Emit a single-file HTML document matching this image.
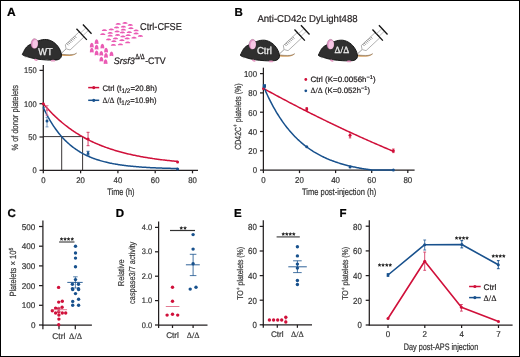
<!DOCTYPE html>
<html><head><meta charset="utf-8"><style>
html,body{margin:0;padding:0;background:#fff;}
body{width:520px;height:357px;overflow:hidden;}
.fig{position:relative;width:520px;height:357px;box-sizing:border-box;border:1px solid #000;background:#fff;}
svg{position:absolute;left:-1px;top:-1px;will-change:transform;text-rendering:geometricPrecision;font-family:"Liberation Sans", sans-serif;}
</style></head><body><div class="fig">
<svg width="520" height="357" viewBox="0 0 520 357">
<text x="7.10" y="16.00" font-size="12.0" fill="#000" stroke="#000" stroke-width="0.22" font-weight="bold" >A</text>
<line x1="43.30" y1="65.00" x2="43.30" y2="170.80" stroke="#231f20" stroke-width="1.25" />
<line x1="42.80" y1="170.30" x2="198.00" y2="170.30" stroke="#231f20" stroke-width="1.25" />
<line x1="39.50" y1="170.30" x2="43.30" y2="170.30" stroke="#231f20" stroke-width="1.25" />
<text x="36.60" y="173.20" font-size="8.2" fill="#333" stroke="#333" stroke-width="0.2" text-anchor="end" textLength="4.20" lengthAdjust="spacingAndGlyphs">0</text>
<line x1="39.50" y1="137.00" x2="43.30" y2="137.00" stroke="#231f20" stroke-width="1.25" />
<text x="36.60" y="139.90" font-size="8.2" fill="#333" stroke="#333" stroke-width="0.2" text-anchor="end" textLength="8.39" lengthAdjust="spacingAndGlyphs">50</text>
<line x1="39.50" y1="103.70" x2="43.30" y2="103.70" stroke="#231f20" stroke-width="1.25" />
<text x="36.60" y="106.60" font-size="8.2" fill="#333" stroke="#333" stroke-width="0.2" text-anchor="end" textLength="12.59" lengthAdjust="spacingAndGlyphs">100</text>
<line x1="39.50" y1="70.40" x2="43.30" y2="70.40" stroke="#231f20" stroke-width="1.25" />
<text x="36.60" y="73.30" font-size="8.2" fill="#333" stroke="#333" stroke-width="0.2" text-anchor="end" textLength="12.59" lengthAdjust="spacingAndGlyphs">150</text>
<line x1="43.30" y1="170.30" x2="43.30" y2="173.30" stroke="#231f20" stroke-width="1.25" />
<text x="43.30" y="182.60" font-size="8.2" fill="#333" stroke="#333" stroke-width="0.2" text-anchor="middle" textLength="4.33" lengthAdjust="spacingAndGlyphs">0</text>
<line x1="80.60" y1="170.30" x2="80.60" y2="173.30" stroke="#231f20" stroke-width="1.25" />
<text x="80.60" y="182.60" font-size="8.2" fill="#333" stroke="#333" stroke-width="0.2" text-anchor="middle" textLength="8.66" lengthAdjust="spacingAndGlyphs">20</text>
<line x1="117.90" y1="170.30" x2="117.90" y2="173.30" stroke="#231f20" stroke-width="1.25" />
<text x="117.90" y="182.60" font-size="8.2" fill="#333" stroke="#333" stroke-width="0.2" text-anchor="middle" textLength="8.66" lengthAdjust="spacingAndGlyphs">40</text>
<line x1="155.20" y1="170.30" x2="155.20" y2="173.30" stroke="#231f20" stroke-width="1.25" />
<text x="155.20" y="182.60" font-size="8.2" fill="#333" stroke="#333" stroke-width="0.2" text-anchor="middle" textLength="8.66" lengthAdjust="spacingAndGlyphs">60</text>
<line x1="192.50" y1="170.30" x2="192.50" y2="173.30" stroke="#231f20" stroke-width="1.25" />
<text x="192.50" y="182.60" font-size="8.2" fill="#333" stroke="#333" stroke-width="0.2" text-anchor="middle" textLength="8.66" lengthAdjust="spacingAndGlyphs">80</text>
<text x="107.30" y="194.60" font-size="9.4" fill="#333" stroke="#333" stroke-width="0.22" textLength="27.2" lengthAdjust="spacingAndGlyphs" >Time (h)</text>
<g transform="translate(17.50 150.50) rotate(-90)">
<text x="0.00" y="0.00" font-size="9" fill="#3a3a3a" stroke="#3a3a3a" stroke-width="0.22" textLength="65.50" lengthAdjust="spacingAndGlyphs" xml:space="preserve">% of donor platelets</text>
</g>
<line x1="43.30" y1="136.60" x2="82.60" y2="136.60" stroke="#231f20" stroke-width="0.9" />
<line x1="61.70" y1="136.60" x2="61.70" y2="170.30" stroke="#231f20" stroke-width="0.9" />
<line x1="82.60" y1="136.60" x2="82.60" y2="170.30" stroke="#231f20" stroke-width="0.9" />
<polyline points="43.30,103.70 44.23,104.81 45.16,105.89 46.10,106.96 47.03,108.01 47.96,109.04 48.89,110.05 49.83,111.05 50.76,112.02 51.69,112.98 52.62,113.92 53.56,114.85 54.49,115.76 55.42,116.65 56.35,117.53 57.29,118.39 58.22,119.24 59.15,120.07 60.08,120.88 61.02,121.69 61.95,122.48 62.88,123.25 63.81,124.01 64.75,124.76 65.68,125.49 66.61,126.21 67.55,126.92 68.48,127.62 69.41,128.30 70.34,128.97 71.28,129.63 72.21,130.28 73.14,130.91 74.07,131.54 75.00,132.15 75.94,132.76 76.87,133.35 77.80,133.93 78.73,134.50 79.67,135.06 80.60,135.61 81.53,136.16 82.47,136.69 83.40,137.21 84.33,137.72 85.26,138.23 86.19,138.72 87.13,139.21 88.06,139.69 88.99,140.16 89.92,140.62 90.86,141.07 91.79,141.52 92.72,141.96 93.66,142.39 94.59,142.81 95.52,143.22 96.45,143.63 97.38,144.03 98.32,144.42 99.25,144.81 100.18,145.19 101.11,145.56 102.05,145.93 102.98,146.28 103.91,146.64 104.84,146.98 105.78,147.33 106.71,147.66 107.64,147.99 108.58,148.31 109.51,148.63 110.44,148.94 111.37,149.25 112.30,149.55 113.24,149.84 114.17,150.13 115.10,150.42 116.03,150.70 116.97,150.97 117.90,151.24 118.83,151.51 119.77,151.77 120.70,152.02 121.63,152.28 122.56,152.52 123.49,152.76 124.43,153.00 125.36,153.24 126.29,153.47 127.22,153.69 128.16,153.92 129.09,154.13 130.02,154.35 130.95,154.56 131.89,154.76 132.82,154.97 133.75,155.17 134.69,155.36 135.62,155.55 136.55,155.74 137.48,155.93 138.41,156.11 139.35,156.29 140.28,156.47 141.21,156.64 142.14,156.81 143.08,156.98 144.01,157.14 144.94,157.30 145.88,157.46 146.81,157.61 147.74,157.77 148.67,157.92 149.60,158.06 150.54,158.21 151.47,158.35 152.40,158.49 153.33,158.63 154.27,158.76 155.20,158.89 156.13,159.02 157.06,159.15 158.00,159.28 158.93,159.40 159.86,159.52 160.80,159.64 161.73,159.76 162.66,159.87 163.59,159.98 164.52,160.09 165.46,160.20 166.39,160.31 167.32,160.41 168.25,160.52 169.19,160.62 170.12,160.72 171.05,160.82 171.99,160.91 172.92,161.01 173.85,161.10 174.78,161.19 175.71,161.28 176.65,161.37 177.58,161.45" fill="none" stroke="#d0103a" stroke-width="1.5" stroke-linejoin="round"/>
<polyline points="43.30,107.56 44.23,109.53 45.16,111.43 46.10,113.27 47.03,115.05 47.96,116.78 48.89,118.45 49.83,120.07 50.76,121.63 51.69,123.15 52.62,124.62 53.56,126.04 54.49,127.41 55.42,128.74 56.35,130.03 57.29,131.28 58.22,132.49 59.15,133.66 60.08,134.79 61.02,135.88 61.95,136.94 62.88,137.97 63.81,138.96 64.75,139.93 65.68,140.86 66.61,141.76 67.55,142.63 68.48,143.48 69.41,144.30 70.34,145.09 71.28,145.85 72.21,146.60 73.14,147.32 74.07,148.01 75.00,148.68 75.94,149.34 76.87,149.97 77.80,150.58 78.73,151.17 79.67,151.74 80.60,152.30 81.53,152.83 82.47,153.35 83.40,153.86 84.33,154.34 85.26,154.81 86.19,155.27 87.13,155.71 88.06,156.14 88.99,156.55 89.92,156.95 90.86,157.34 91.79,157.72 92.72,158.08 93.66,158.43 94.59,158.77 95.52,159.10 96.45,159.42 97.38,159.73 98.32,160.03 99.25,160.32 100.18,160.60 101.11,160.87 102.05,161.13 102.98,161.39 103.91,161.63 104.84,161.87 105.78,162.10 106.71,162.33 107.64,162.54 108.58,162.75 109.51,162.96 110.44,163.15 111.37,163.34 112.30,163.53 113.24,163.70 114.17,163.88 115.10,164.04 116.03,164.20 116.97,164.36 117.90,164.51 118.83,164.66 119.77,164.80 120.70,164.94 121.63,165.07 122.56,165.20 123.49,165.32 124.43,165.44 125.36,165.56 126.29,165.67 127.22,165.78 128.16,165.89 129.09,165.99 130.02,166.09 130.95,166.19 131.89,166.28 132.82,166.37 133.75,166.46 134.69,166.54 135.62,166.62 136.55,166.70 137.48,166.78 138.41,166.85 139.35,166.93 140.28,167.00 141.21,167.06 142.14,167.13 143.08,167.19 144.01,167.25 144.94,167.31 145.88,167.37 146.81,167.42 147.74,167.48 148.67,167.53 149.60,167.58 150.54,167.63 151.47,167.67 152.40,167.72 153.33,167.76 154.27,167.81 155.20,167.85 156.13,167.89 157.06,167.93 158.00,167.96 158.93,168.00 159.86,168.04 160.80,168.07 161.73,168.10 162.66,168.13 163.59,168.17 164.52,168.20 165.46,168.22 166.39,168.25 167.32,168.28 168.25,168.31 169.19,168.33 170.12,168.36 171.05,168.38 171.99,168.40 172.92,168.42 173.85,168.45 174.78,168.47 175.71,168.49 176.65,168.51 177.58,168.53" fill="none" stroke="#18518d" stroke-width="1.5" stroke-linejoin="round"/>
<line x1="47.03" y1="105.60" x2="47.03" y2="115.20" stroke="#e07090" stroke-width="0.8" />
<line x1="45.53" y1="105.60" x2="48.53" y2="105.60" stroke="#e07090" stroke-width="0.8" />
<line x1="45.53" y1="115.20" x2="48.53" y2="115.20" stroke="#e07090" stroke-width="0.8" />
<line x1="88.06" y1="132.30" x2="88.06" y2="145.70" stroke="#d33a62" stroke-width="0.95" />
<line x1="86.56" y1="132.30" x2="89.56" y2="132.30" stroke="#d33a62" stroke-width="0.95" />
<line x1="86.56" y1="145.70" x2="89.56" y2="145.70" stroke="#d33a62" stroke-width="0.95" />
<line x1="47.03" y1="117.40" x2="47.03" y2="126.90" stroke="#5b85b5" stroke-width="0.8" />
<line x1="45.53" y1="117.40" x2="48.53" y2="117.40" stroke="#5b85b5" stroke-width="0.8" />
<line x1="45.53" y1="126.90" x2="48.53" y2="126.90" stroke="#5b85b5" stroke-width="0.8" />
<line x1="88.06" y1="151.30" x2="88.06" y2="155.00" stroke="#18518d" stroke-width="0.9" />
<line x1="86.56" y1="151.30" x2="89.56" y2="151.30" stroke="#18518d" stroke-width="0.9" />
<line x1="86.56" y1="155.00" x2="89.56" y2="155.00" stroke="#18518d" stroke-width="0.9" />
<circle cx="43.30" cy="103.70" r="1.5" fill="#d0103a"/>
<circle cx="47.03" cy="110.00" r="1.2" fill="#e07090"/>
<circle cx="88.06" cy="139.10" r="1.5" fill="#d0103a"/>
<circle cx="177.58" cy="161.90" r="1.5" fill="#d0103a"/>
<circle cx="43.70" cy="107.60" r="1.0" fill="#18518d"/>
<circle cx="47.03" cy="121.00" r="1.5" fill="#18518d"/>
<circle cx="88.06" cy="153.40" r="1.3" fill="#18518d"/>
<circle cx="177.58" cy="169.00" r="1.6" fill="#18518d"/>
<line x1="88.20" y1="87.60" x2="99.20" y2="87.60" stroke="#d0103a" stroke-width="1.5" />
<circle cx="93.75" cy="87.60" r="1.6" fill="#d0103a"/>
<line x1="88.20" y1="100.30" x2="99.20" y2="100.30" stroke="#18518d" stroke-width="1.5" />
<circle cx="93.75" cy="100.30" r="1.6" fill="#18518d"/>
<text x="102.50" y="90.50" font-size="8.0" fill="#231f20" stroke="#231f20" stroke-width="0.22" textLength="19.03" lengthAdjust="spacingAndGlyphs" xml:space="preserve">Ctrl (t</text>
<text x="121.53" y="92.70" font-size="6.6" fill="#231f20" stroke="#231f20" stroke-width="0.22" textLength="8.93" lengthAdjust="spacingAndGlyphs" xml:space="preserve">1/2</text>
<text x="130.47" y="90.50" font-size="8.0" fill="#231f20" stroke="#231f20" stroke-width="0.22" textLength="26.63" lengthAdjust="spacingAndGlyphs" xml:space="preserve">=20.8h)</text>
<text x="102.50" y="102.80" font-size="8.0" fill="#231f20" stroke="#231f20" stroke-width="0.22" textLength="12.03" lengthAdjust="spacingAndGlyphs" xml:space="preserve" font-family="Liberation Serif">Δ/Δ</text>
<text x="114.53" y="102.80" font-size="8.0" fill="#231f20" stroke="#231f20" stroke-width="0.22" textLength="6.84" lengthAdjust="spacingAndGlyphs" xml:space="preserve"> (t</text>
<text x="121.37" y="105.00" font-size="6.6" fill="#231f20" stroke="#231f20" stroke-width="0.22" textLength="8.82" lengthAdjust="spacingAndGlyphs" xml:space="preserve">1/2</text>
<text x="130.19" y="102.80" font-size="8.0" fill="#231f20" stroke="#231f20" stroke-width="0.22" textLength="26.31" lengthAdjust="spacingAndGlyphs" xml:space="preserve">=10.9h)</text>
<g transform="translate(0 0)">
<path d="M61 54.0 C65 54.6 69 54.8 72 54.6 C74 54.4 75.6 53.8 76.8 52.9 L76.5 53.6 C75 55 72.5 55.9 70 56 C67 56.1 64 55.9 61 55.8 Z" fill="#d6a264"/>
<path d="M61 54.1 C65 54.7 69 54.9 72 54.7 C74 54.5 75.6 53.9 76.8 52.9" fill="none" stroke="#5a5048" stroke-width="0.45"/>
<path d="M22.4 54.3 C23.2 52.8 24.3 50.0 25.6 48.2 C26.8 46.6 28.3 45.2 30.2 44.6 C32.5 42.2 35.5 41.2 38.5 40.8 C41 39.8 44 39.3 46.5 39.5 C51.5 40 56.5 43.5 59.2 48.3 C60.7 51 61.6 53.5 61.5 55.8 C61.2 58 59.5 59.6 57 59.9 C52 60.4 47 60.1 44 59.8 C40 59.5 37.5 59.2 35.5 58.8 C32 58.2 29.5 57.4 27.5 56.8 C25.5 56.2 24 55.8 23.2 55.3 C22.6 55 22.3 54.7 22.3 54.3 Z" fill="#2f2f2f" stroke="#0d0d0d" stroke-width="0.9"/>
<ellipse cx="34.4" cy="43.6" rx="3.4" ry="5.0" fill="#e596c8" stroke="#7a5068" stroke-width="0.3" transform="rotate(6 34.4 43.6)"/>
<ellipse cx="35.2" cy="44.2" rx="2.6" ry="4.1" fill="#f6c6e4" transform="rotate(6 35.2 44.2)"/>
<ellipse cx="35.8" cy="59.9" rx="1.9" ry="0.9" fill="#e59ac4" transform="rotate(20 35.8 59.9)"/>
<ellipse cx="53.0" cy="60.7" rx="2.4" ry="0.9" fill="#e59ac4"/>
<path d="M25.2 56 L25.4 57.6 M26.6 56.3 L26.8 57.6" stroke="#888" stroke-width="0.45"/>
</g>
<text x="38.2" y="54.7" font-size="10.0" fill="#ececec" stroke="#ececec" stroke-width="0.3" textLength="14.4" lengthAdjust="spacingAndGlyphs">WT</text>
<g transform="translate(62 52.7) rotate(-43)">
<line x1="0" y1="0" x2="5.8" y2="0" stroke="#666" stroke-width="0.6"/>
<path d="M5.8 -0.3 L7.8 -3.5 L26.6 -3.5 L26.6 3.5 L7.8 3.5 L5.8 0.3 Z" fill="#fff" stroke="#7a7a7a" stroke-width="0.55"/>
<line x1="9.8" y1="-3.5" x2="9.8" y2="-1.0" stroke="#555" stroke-width="0.6"/>
<line x1="11.6" y1="-3.5" x2="11.6" y2="-1.0" stroke="#555" stroke-width="0.6"/>
<line x1="13.4" y1="-3.5" x2="13.4" y2="-1.0" stroke="#555" stroke-width="0.6"/>
<line x1="15.2" y1="-3.5" x2="15.2" y2="-1.0" stroke="#555" stroke-width="0.6"/>
<line x1="17.0" y1="-3.5" x2="17.0" y2="-1.0" stroke="#555" stroke-width="0.6"/>
<line x1="18.8" y1="-3.5" x2="18.8" y2="-1.0" stroke="#555" stroke-width="0.6"/>
<line x1="20.6" y1="-3.5" x2="20.6" y2="-1.0" stroke="#555" stroke-width="0.6"/>
<line x1="26.9" y1="-7.6" x2="26.9" y2="7.6" stroke="#111" stroke-width="1.3"/>
<line x1="26.9" y1="-1.8" x2="34.3" y2="-1.8" stroke="#8a8a8a" stroke-width="0.5"/>
<line x1="26.9" y1="1.8" x2="34.3" y2="1.8" stroke="#8a8a8a" stroke-width="0.5"/>
<line x1="34.5" y1="-6.3" x2="34.5" y2="6.3" stroke="#111" stroke-width="1.3"/>
</g>
<g transform="translate(218 0.7)">
<path d="M61 54.0 C65 54.6 69 54.8 72 54.6 C74 54.4 75.6 53.8 76.8 52.9 L76.5 53.6 C75 55 72.5 55.9 70 56 C67 56.1 64 55.9 61 55.8 Z" fill="#d6a264"/>
<path d="M61 54.1 C65 54.7 69 54.9 72 54.7 C74 54.5 75.6 53.9 76.8 52.9" fill="none" stroke="#5a5048" stroke-width="0.45"/>
<path d="M22.4 54.3 C23.2 52.8 24.3 50.0 25.6 48.2 C26.8 46.6 28.3 45.2 30.2 44.6 C32.5 42.2 35.5 41.2 38.5 40.8 C41 39.8 44 39.3 46.5 39.5 C51.5 40 56.5 43.5 59.2 48.3 C60.7 51 61.6 53.5 61.5 55.8 C61.2 58 59.5 59.6 57 59.9 C52 60.4 47 60.1 44 59.8 C40 59.5 37.5 59.2 35.5 58.8 C32 58.2 29.5 57.4 27.5 56.8 C25.5 56.2 24 55.8 23.2 55.3 C22.6 55 22.3 54.7 22.3 54.3 Z" fill="#2f2f2f" stroke="#0d0d0d" stroke-width="0.9"/>
<ellipse cx="34.4" cy="43.6" rx="3.4" ry="5.0" fill="#e596c8" stroke="#7a5068" stroke-width="0.3" transform="rotate(6 34.4 43.6)"/>
<ellipse cx="35.2" cy="44.2" rx="2.6" ry="4.1" fill="#f6c6e4" transform="rotate(6 35.2 44.2)"/>
<ellipse cx="35.8" cy="59.9" rx="1.9" ry="0.9" fill="#e59ac4" transform="rotate(20 35.8 59.9)"/>
<ellipse cx="53.0" cy="60.7" rx="2.4" ry="0.9" fill="#e59ac4"/>
<path d="M25.2 56 L25.4 57.6 M26.6 56.3 L26.8 57.6" stroke="#888" stroke-width="0.45"/>
</g>
<text x="256.9" y="54.2" font-size="10.0" fill="#ececec" stroke="#ececec" stroke-width="0.3" textLength="15.0" lengthAdjust="spacingAndGlyphs">Ctrl</text>
<g transform="translate(280 53.4) rotate(-43)">
<line x1="0" y1="0" x2="5.8" y2="0" stroke="#666" stroke-width="0.6"/>
<path d="M5.8 -0.3 L7.8 -3.5 L26.6 -3.5 L26.6 3.5 L7.8 3.5 L5.8 0.3 Z" fill="#fff" stroke="#7a7a7a" stroke-width="0.55"/>
<line x1="9.8" y1="-3.5" x2="9.8" y2="-1.0" stroke="#555" stroke-width="0.6"/>
<line x1="11.6" y1="-3.5" x2="11.6" y2="-1.0" stroke="#555" stroke-width="0.6"/>
<line x1="13.4" y1="-3.5" x2="13.4" y2="-1.0" stroke="#555" stroke-width="0.6"/>
<line x1="15.2" y1="-3.5" x2="15.2" y2="-1.0" stroke="#555" stroke-width="0.6"/>
<line x1="17.0" y1="-3.5" x2="17.0" y2="-1.0" stroke="#555" stroke-width="0.6"/>
<line x1="18.8" y1="-3.5" x2="18.8" y2="-1.0" stroke="#555" stroke-width="0.6"/>
<line x1="20.6" y1="-3.5" x2="20.6" y2="-1.0" stroke="#555" stroke-width="0.6"/>
<line x1="26.9" y1="-7.6" x2="26.9" y2="7.6" stroke="#111" stroke-width="1.3"/>
<line x1="26.9" y1="-1.8" x2="34.3" y2="-1.8" stroke="#8a8a8a" stroke-width="0.5"/>
<line x1="26.9" y1="1.8" x2="34.3" y2="1.8" stroke="#8a8a8a" stroke-width="0.5"/>
<line x1="34.5" y1="-6.3" x2="34.5" y2="6.3" stroke="#111" stroke-width="1.3"/>
</g>
<g transform="translate(296 0.7)">
<path d="M61 54.0 C65 54.6 69 54.8 72 54.6 C74 54.4 75.6 53.8 76.8 52.9 L76.5 53.6 C75 55 72.5 55.9 70 56 C67 56.1 64 55.9 61 55.8 Z" fill="#d6a264"/>
<path d="M61 54.1 C65 54.7 69 54.9 72 54.7 C74 54.5 75.6 53.9 76.8 52.9" fill="none" stroke="#5a5048" stroke-width="0.45"/>
<path d="M22.4 54.3 C23.2 52.8 24.3 50.0 25.6 48.2 C26.8 46.6 28.3 45.2 30.2 44.6 C32.5 42.2 35.5 41.2 38.5 40.8 C41 39.8 44 39.3 46.5 39.5 C51.5 40 56.5 43.5 59.2 48.3 C60.7 51 61.6 53.5 61.5 55.8 C61.2 58 59.5 59.6 57 59.9 C52 60.4 47 60.1 44 59.8 C40 59.5 37.5 59.2 35.5 58.8 C32 58.2 29.5 57.4 27.5 56.8 C25.5 56.2 24 55.8 23.2 55.3 C22.6 55 22.3 54.7 22.3 54.3 Z" fill="#2f2f2f" stroke="#0d0d0d" stroke-width="0.9"/>
<ellipse cx="34.4" cy="43.6" rx="3.4" ry="5.0" fill="#e596c8" stroke="#7a5068" stroke-width="0.3" transform="rotate(6 34.4 43.6)"/>
<ellipse cx="35.2" cy="44.2" rx="2.6" ry="4.1" fill="#f6c6e4" transform="rotate(6 35.2 44.2)"/>
<ellipse cx="35.8" cy="59.9" rx="1.9" ry="0.9" fill="#e59ac4" transform="rotate(20 35.8 59.9)"/>
<ellipse cx="53.0" cy="60.7" rx="2.4" ry="0.9" fill="#e59ac4"/>
<path d="M25.2 56 L25.4 57.6 M26.6 56.3 L26.8 57.6" stroke="#888" stroke-width="0.45"/>
</g>
<text x="334.6" y="53.0" font-size="9.6" fill="#ececec" stroke="#ececec" stroke-width="0.3" font-family="Liberation Serif" textLength="14.6" lengthAdjust="spacingAndGlyphs">Δ/Δ</text>
<g transform="translate(358 53.4) rotate(-43)">
<line x1="0" y1="0" x2="5.8" y2="0" stroke="#666" stroke-width="0.6"/>
<path d="M5.8 -0.3 L7.8 -3.5 L26.6 -3.5 L26.6 3.5 L7.8 3.5 L5.8 0.3 Z" fill="#fff" stroke="#7a7a7a" stroke-width="0.55"/>
<line x1="9.8" y1="-3.5" x2="9.8" y2="-1.0" stroke="#555" stroke-width="0.6"/>
<line x1="11.6" y1="-3.5" x2="11.6" y2="-1.0" stroke="#555" stroke-width="0.6"/>
<line x1="13.4" y1="-3.5" x2="13.4" y2="-1.0" stroke="#555" stroke-width="0.6"/>
<line x1="15.2" y1="-3.5" x2="15.2" y2="-1.0" stroke="#555" stroke-width="0.6"/>
<line x1="17.0" y1="-3.5" x2="17.0" y2="-1.0" stroke="#555" stroke-width="0.6"/>
<line x1="18.8" y1="-3.5" x2="18.8" y2="-1.0" stroke="#555" stroke-width="0.6"/>
<line x1="20.6" y1="-3.5" x2="20.6" y2="-1.0" stroke="#555" stroke-width="0.6"/>
<line x1="26.9" y1="-7.6" x2="26.9" y2="7.6" stroke="#111" stroke-width="1.3"/>
<line x1="26.9" y1="-1.8" x2="34.3" y2="-1.8" stroke="#8a8a8a" stroke-width="0.5"/>
<line x1="26.9" y1="1.8" x2="34.3" y2="1.8" stroke="#8a8a8a" stroke-width="0.5"/>
<line x1="34.5" y1="-6.3" x2="34.5" y2="6.3" stroke="#111" stroke-width="1.3"/>
</g>
<path d="M115.60 24.40 C115.90 22.40 120.50 22.40 120.80 24.40 C120.20 24.90 116.20 24.90 115.60 24.40 Z" fill="#ea5bb4"/>
<path d="M122.40 23.50 C122.70 21.50 127.30 21.50 127.60 23.50 C127.00 24.00 123.00 24.00 122.40 23.50 Z" fill="#ea5bb4"/>
<path d="M127.70 25.60 C128.00 23.60 132.60 23.60 132.90 25.60 C132.30 26.10 128.30 26.10 127.70 25.60 Z" fill="#ea5bb4"/>
<path d="M114.00 28.10 C114.30 26.10 118.90 26.10 119.20 28.10 C118.60 28.60 114.60 28.60 114.00 28.10 Z" fill="#ea5bb4"/>
<path d="M120.80 27.30 C121.10 25.30 125.70 25.30 126.00 27.30 C125.40 27.80 121.40 27.80 120.80 27.30 Z" fill="#ea5bb4"/>
<path d="M128.30 28.80 C128.60 26.80 133.20 26.80 133.50 28.80 C132.90 29.30 128.90 29.30 128.30 28.80 Z" fill="#ea5bb4"/>
<path d="M101.80 30.70 C102.10 28.70 106.70 28.70 107.00 30.70 C106.40 31.20 102.40 31.20 101.80 30.70 Z" fill="#ea5bb4"/>
<path d="M108.70 30.00 C109.00 28.00 113.60 28.00 113.90 30.00 C113.30 30.50 109.30 30.50 108.70 30.00 Z" fill="#ea5bb4"/>
<path d="M120.80 30.20 C121.10 28.20 125.70 28.20 126.00 30.20 C125.40 30.70 121.40 30.70 120.80 30.20 Z" fill="#ea5bb4"/>
<path d="M133.50 30.90 C133.80 28.90 138.40 28.90 138.70 30.90 C138.10 31.40 134.10 31.40 133.50 30.90 Z" fill="#ea5bb4"/>
<path d="M100.20 34.70 C100.50 32.70 105.10 32.70 105.40 34.70 C104.80 35.20 100.80 35.20 100.20 34.70 Z" fill="#ea5bb4"/>
<path d="M107.60 33.40 C107.90 31.40 112.50 31.40 112.80 33.40 C112.20 33.90 108.20 33.90 107.60 33.40 Z" fill="#ea5bb4"/>
<path d="M114.50 32.00 C114.80 30.00 119.40 30.00 119.70 32.00 C119.10 32.50 115.10 32.50 114.50 32.00 Z" fill="#ea5bb4"/>
<path d="M119.80 33.10 C120.10 31.10 124.70 31.10 125.00 33.10 C124.40 33.60 120.40 33.60 119.80 33.10 Z" fill="#ea5bb4"/>
<path d="M126.70 32.80 C127.00 30.80 131.60 30.80 131.90 32.80 C131.30 33.30 127.30 33.30 126.70 32.80 Z" fill="#ea5bb4"/>
<path d="M133.50 34.10 C133.80 32.10 138.40 32.10 138.70 34.10 C138.10 34.60 134.10 34.60 133.50 34.10 Z" fill="#ea5bb4"/>
<path d="M107.60 36.20 C107.90 34.20 112.50 34.20 112.80 36.20 C112.20 36.70 108.20 36.70 107.60 36.20 Z" fill="#ea5bb4"/>
<path d="M115.00 35.50 C115.30 33.50 119.90 33.50 120.20 35.50 C119.60 36.00 115.60 36.00 115.00 35.50 Z" fill="#ea5bb4"/>
<path d="M120.30 37.10 C120.60 35.10 125.20 35.10 125.50 37.10 C124.90 37.60 120.90 37.60 120.30 37.10 Z" fill="#ea5bb4"/>
<path d="M125.60 35.70 C125.90 33.70 130.50 33.70 130.80 35.70 C130.20 36.20 126.20 36.20 125.60 35.70 Z" fill="#ea5bb4"/>
<path d="M137.80 36.50 C138.10 34.50 142.70 34.50 143.00 36.50 C142.40 37.00 138.40 37.00 137.80 36.50 Z" fill="#ea5bb4"/>
<path d="M106.00 40.00 C106.30 38.00 110.90 38.00 111.20 40.00 C110.60 40.50 106.60 40.50 106.00 40.00 Z" fill="#ea5bb4"/>
<path d="M112.90 39.00 C113.20 37.00 117.80 37.00 118.10 39.00 C117.50 39.50 113.50 39.50 112.90 39.00 Z" fill="#ea5bb4"/>
<path d="M119.30 40.80 C119.60 38.80 124.20 38.80 124.50 40.80 C123.90 41.30 119.90 41.30 119.30 40.80 Z" fill="#ea5bb4"/>
<path d="M124.60 39.00 C124.90 37.00 129.50 37.00 129.80 39.00 C129.20 39.50 125.20 39.50 124.60 39.00 Z" fill="#ea5bb4"/>
<path d="M131.40 38.30 C131.70 36.30 136.30 36.30 136.60 38.30 C136.00 38.80 132.00 38.80 131.40 38.30 Z" fill="#ea5bb4"/>
<path d="M111.30 41.80 C111.60 39.80 116.20 39.80 116.50 41.80 C115.90 42.30 111.90 42.30 111.30 41.80 Z" fill="#ea5bb4"/>
<path d="M125.10 42.90 C125.40 40.90 130.00 40.90 130.30 42.90 C129.70 43.40 125.70 43.40 125.10 42.90 Z" fill="#ea5bb4"/>
<path d="M110.80 45.40 C111.10 43.40 115.70 43.40 116.00 45.40 C115.40 45.90 111.40 45.90 110.80 45.40 Z" fill="#ea5bb4"/>
<path d="M117.80 44.90 C118.10 42.90 122.70 42.90 123.00 44.90 C122.40 45.40 118.40 45.40 117.80 44.90 Z" fill="#ea5bb4"/>
<path d="M94.70 44.10 C94.60 41.60 95.20 39.30 96.60 39.30 C98.00 39.30 98.60 41.60 98.50 44.10 Q96.60 43.30 94.70 44.10 Z" fill="#ea5bb4"/>
<path d="M89.90 47.60 C89.80 45.10 90.40 42.80 91.80 42.80 C93.20 42.80 93.80 45.10 93.70 47.60 Q91.80 46.80 89.90 47.60 Z" fill="#ea5bb4"/>
<path d="M94.70 49.60 C94.60 47.10 95.20 44.80 96.60 44.80 C98.00 44.80 98.60 47.10 98.50 49.60 Q96.60 48.80 94.70 49.60 Z" fill="#ea5bb4"/>
<path d="M100.50 48.60 C100.40 46.10 101.00 43.80 102.40 43.80 C103.80 43.80 104.40 46.10 104.30 48.60 Q102.40 47.80 100.50 48.60 Z" fill="#ea5bb4"/>
<path d="M89.90 52.60 C89.80 50.10 90.40 47.80 91.80 47.80 C93.20 47.80 93.80 50.10 93.70 52.60 Q91.80 51.80 89.90 52.60 Z" fill="#ea5bb4"/>
<path d="M94.70 55.40 C94.60 52.90 95.20 50.60 96.60 50.60 C98.00 50.60 98.60 52.90 98.50 55.40 Q96.60 54.60 94.70 55.40 Z" fill="#ea5bb4"/>
<path d="M99.40 55.70 C99.30 53.20 99.90 50.90 101.30 50.90 C102.70 50.90 103.30 53.20 103.20 55.70 Q101.30 54.90 99.40 55.70 Z" fill="#ea5bb4"/>
<path d="M104.20 52.60 C104.10 50.10 104.70 47.80 106.10 47.80 C107.50 47.80 108.10 50.10 108.00 52.60 Q106.10 51.80 104.20 52.60 Z" fill="#ea5bb4"/>
<path d="M104.10 57.80 C104.00 55.30 104.60 53.00 106.00 53.00 C107.40 53.00 108.00 55.30 107.90 57.80 Q106.00 57.00 104.10 57.80 Z" fill="#ea5bb4"/>
<path d="M109.60 56.20 C109.50 53.70 110.10 51.40 111.50 51.40 C112.90 51.40 113.50 53.70 113.40 56.20 Q111.50 55.40 109.60 56.20 Z" fill="#ea5bb4"/>
<path d="M99.50 61.60 C99.40 59.10 100.00 56.80 101.40 56.80 C102.80 56.80 103.40 59.10 103.30 61.60 Q101.40 60.80 99.50 61.60 Z" fill="#ea5bb4"/>
<path d="M103.70 64.10 C103.60 61.60 104.20 59.30 105.60 59.30 C107.00 59.30 107.60 61.60 107.50 64.10 Q105.60 63.30 103.70 64.10 Z" fill="#ea5bb4"/>
<text x="140.10" y="29.90" font-size="10.0" fill="#231f20" stroke="#231f20" stroke-width="0.22" textLength="41.7" lengthAdjust="spacingAndGlyphs" >Ctrl-CFSE</text>
<text x="113.80" y="63.50" font-size="9.4" fill="#231f20" stroke="#231f20" stroke-width="0.22" textLength="21.0" lengthAdjust="spacingAndGlyphs" font-style="italic" >Srsf3</text>
<text x="135.20" y="59.20" font-size="7.6" fill="#231f20" stroke="#231f20" stroke-width="0.3" textLength="9.6" lengthAdjust="spacingAndGlyphs" font-family="Liberation Serif" >Δ/Δ</text>
<text x="145.20" y="63.50" font-size="9.4" fill="#231f20" stroke="#231f20" stroke-width="0.22" textLength="20.4" lengthAdjust="spacingAndGlyphs" >-CTV</text>
<text x="234.50" y="16.00" font-size="11.5" fill="#000" stroke="#000" stroke-width="0.22" font-weight="bold" >B</text>
<text x="257.40" y="22.10" font-size="10.0" fill="#231f20" stroke="#231f20" stroke-width="0.22" textLength="100.2" lengthAdjust="spacingAndGlyphs" >Anti-CD42c DyLight488</text>
<line x1="263.40" y1="67.70" x2="263.40" y2="170.60" stroke="#231f20" stroke-width="1.25" />
<line x1="262.90" y1="170.10" x2="414.60" y2="170.10" stroke="#231f20" stroke-width="1.25" />
<line x1="260.00" y1="170.10" x2="263.40" y2="170.10" stroke="#231f20" stroke-width="1.25" />
<text x="257.00" y="173.40" font-size="8.6" fill="#333" stroke="#333" stroke-width="0.2" text-anchor="end" textLength="4.35" lengthAdjust="spacingAndGlyphs">0</text>
<line x1="260.00" y1="150.80" x2="263.40" y2="150.80" stroke="#231f20" stroke-width="1.25" />
<text x="257.00" y="154.10" font-size="8.6" fill="#333" stroke="#333" stroke-width="0.2" text-anchor="end" textLength="8.70" lengthAdjust="spacingAndGlyphs">20</text>
<line x1="260.00" y1="131.50" x2="263.40" y2="131.50" stroke="#231f20" stroke-width="1.25" />
<text x="257.00" y="134.80" font-size="8.6" fill="#333" stroke="#333" stroke-width="0.2" text-anchor="end" textLength="8.70" lengthAdjust="spacingAndGlyphs">40</text>
<line x1="260.00" y1="112.20" x2="263.40" y2="112.20" stroke="#231f20" stroke-width="1.25" />
<text x="257.00" y="115.50" font-size="8.6" fill="#333" stroke="#333" stroke-width="0.2" text-anchor="end" textLength="8.70" lengthAdjust="spacingAndGlyphs">60</text>
<line x1="260.00" y1="92.90" x2="263.40" y2="92.90" stroke="#231f20" stroke-width="1.25" />
<text x="257.00" y="96.20" font-size="8.6" fill="#333" stroke="#333" stroke-width="0.2" text-anchor="end" textLength="8.70" lengthAdjust="spacingAndGlyphs">80</text>
<line x1="260.00" y1="73.60" x2="263.40" y2="73.60" stroke="#231f20" stroke-width="1.25" />
<text x="257.00" y="76.90" font-size="8.6" fill="#333" stroke="#333" stroke-width="0.2" text-anchor="end" textLength="13.06" lengthAdjust="spacingAndGlyphs">100</text>
<line x1="263.40" y1="170.10" x2="263.40" y2="173.10" stroke="#231f20" stroke-width="1.25" />
<text x="263.40" y="183.00" font-size="8.6" fill="#333" stroke="#333" stroke-width="0.2" text-anchor="middle" textLength="4.40" lengthAdjust="spacingAndGlyphs">0</text>
<line x1="299.50" y1="170.10" x2="299.50" y2="173.10" stroke="#231f20" stroke-width="1.25" />
<text x="299.50" y="183.00" font-size="8.6" fill="#333" stroke="#333" stroke-width="0.2" text-anchor="middle" textLength="8.80" lengthAdjust="spacingAndGlyphs">20</text>
<line x1="335.60" y1="170.10" x2="335.60" y2="173.10" stroke="#231f20" stroke-width="1.25" />
<text x="335.60" y="183.00" font-size="8.6" fill="#333" stroke="#333" stroke-width="0.2" text-anchor="middle" textLength="8.80" lengthAdjust="spacingAndGlyphs">40</text>
<line x1="371.70" y1="170.10" x2="371.70" y2="173.10" stroke="#231f20" stroke-width="1.25" />
<text x="371.70" y="183.00" font-size="8.6" fill="#333" stroke="#333" stroke-width="0.2" text-anchor="middle" textLength="8.80" lengthAdjust="spacingAndGlyphs">60</text>
<line x1="407.80" y1="170.10" x2="407.80" y2="173.10" stroke="#231f20" stroke-width="1.25" />
<text x="407.80" y="183.00" font-size="8.6" fill="#333" stroke="#333" stroke-width="0.2" text-anchor="middle" textLength="8.80" lengthAdjust="spacingAndGlyphs">80</text>
<text x="301.90" y="195.40" font-size="9.4" fill="#333" stroke="#333" stroke-width="0.22" textLength="74.3" lengthAdjust="spacingAndGlyphs" >Time post-injection (h)</text>
<g transform="translate(240.80 149.70) rotate(-90)">
<text x="0.00" y="0.00" font-size="8.8" fill="#3a3a3a" stroke="#3a3a3a" stroke-width="0.22" textLength="22.82" lengthAdjust="spacingAndGlyphs" xml:space="preserve">CD42C</text>
<text x="22.82" y="-3.40" font-size="6.0" fill="#3a3a3a" stroke="#3a3a3a" stroke-width="0.22" textLength="2.77" lengthAdjust="spacingAndGlyphs" xml:space="preserve">+</text>
<text x="25.59" y="0.00" font-size="8.8" fill="#3a3a3a" stroke="#3a3a3a" stroke-width="0.22" textLength="40.61" lengthAdjust="spacingAndGlyphs" xml:space="preserve"> platelets (%)</text>
</g>
<polyline points="263.40,88.43 264.71,89.15 266.03,89.87 267.34,90.59 268.65,91.31 269.96,92.02 271.28,92.74 272.59,93.45 273.90,94.16 275.21,94.87 276.53,95.57 277.84,96.28 279.15,96.98 280.47,97.68 281.78,98.38 283.09,99.08 284.40,99.77 285.72,100.46 287.03,101.16 288.34,101.85 289.65,102.54 290.97,103.22 292.28,103.91 293.59,104.59 294.91,105.27 296.22,105.95 297.53,106.63 298.84,107.30 300.16,107.98 301.47,108.65 302.78,109.32 304.09,109.99 305.41,110.66 306.72,111.32 308.03,111.99 309.35,112.65 310.66,113.31 311.97,113.97 313.28,114.62 314.60,115.28 315.91,115.93 317.22,116.58 318.53,117.23 319.85,117.88 321.16,118.52 322.47,119.17 323.79,119.81 325.10,120.45 326.41,121.09 327.72,121.73 329.04,122.36 330.35,122.99 331.66,123.63 332.97,124.26 334.29,124.88 335.60,125.51 336.91,126.13 338.23,126.76 339.54,127.38 340.85,128.00 342.16,128.61 343.48,129.23 344.79,129.84 346.10,130.46 347.41,131.07 348.73,131.67 350.04,132.28 351.35,132.89 352.67,133.49 353.98,134.09 355.29,134.69 356.60,135.29 357.92,135.89 359.23,136.48 360.54,137.07 361.85,137.66 363.17,138.25 364.48,138.84 365.79,139.42 367.11,140.01 368.42,140.59 369.73,141.17 371.04,141.75 372.36,142.33 373.67,142.90 374.98,143.47 376.29,144.05 377.61,144.61 378.92,145.18 380.23,145.75 381.55,146.31 382.86,146.88 384.17,147.44 385.48,148.00 386.80,148.55 388.11,149.11 389.42,149.66 390.73,150.21 392.05,150.76 393.36,151.31" fill="none" stroke="#d0103a" stroke-width="1.5" stroke-linejoin="round"/>
<polyline points="263.40,86.14 264.30,88.25 265.20,90.31 266.11,92.32 267.01,94.29 267.91,96.20 268.81,98.07 269.72,99.90 270.62,101.68 271.52,103.42 272.42,105.12 273.33,106.78 274.23,108.40 275.13,109.98 276.03,111.53 276.94,113.03 277.84,114.50 278.74,115.94 279.64,117.34 280.55,118.71 281.45,120.04 282.35,121.35 283.25,122.62 284.16,123.86 285.06,125.08 285.96,126.26 286.86,127.42 287.77,128.55 288.67,129.65 289.57,130.73 290.47,131.78 291.38,132.80 292.28,133.80 293.18,134.78 294.08,135.73 294.99,136.66 295.89,137.57 296.79,138.46 297.69,139.33 298.60,140.17 299.50,141.00 300.40,141.81 301.30,142.59 302.21,143.36 303.11,144.11 304.01,144.84 304.91,145.56 305.82,146.26 306.72,146.94 307.62,147.60 308.52,148.25 309.43,148.89 310.33,149.50 311.23,150.11 312.13,150.70 313.04,151.27 313.94,151.84 314.84,152.38 315.75,152.92 316.65,153.44 317.55,153.95 318.45,154.45 319.35,154.94 320.26,155.41 321.16,155.88 322.06,156.33 322.96,156.77 323.87,157.20 324.77,157.62 325.67,158.04 326.57,158.44 327.48,158.83 328.38,159.21 329.28,159.58 330.18,159.95 331.09,160.30 331.99,160.65 332.89,160.99 333.79,161.32 334.70,161.65 335.60,161.96 336.50,162.27 337.40,162.57 338.31,162.86 339.21,163.15 340.11,163.43 341.01,163.70 341.92,163.97 342.82,164.23 343.72,164.48 344.62,164.73 345.53,164.97 346.43,165.21 347.33,165.44 348.23,165.67 349.14,165.89 350.04,166.10 350.94,166.31 351.84,166.52 352.75,166.72 353.65,166.91 354.55,167.10 355.45,167.29 356.36,167.47 357.26,167.65 358.16,167.82 359.06,167.99 359.97,168.15 360.87,168.31 361.77,168.47 362.67,168.62 363.58,168.77 364.48,168.92 365.38,169.06 366.28,169.20 367.19,169.34 368.09,169.47 368.99,169.60 369.89,169.73 370.80,169.85 371.70,169.97 372.60,170.09 373.50,170.10 374.41,170.10 375.31,170.10 376.21,170.10 377.11,170.10 378.02,170.10 378.92,170.10 379.82,170.10 380.72,170.10 381.63,170.10 382.53,170.10 383.43,170.10 384.33,170.10 385.24,170.10 386.14,170.10 387.04,170.10 387.94,170.10 388.85,170.10 389.75,170.10 390.65,170.10 391.55,170.10 392.46,170.10 393.36,170.10" fill="none" stroke="#18518d" stroke-width="1.5" stroke-linejoin="round"/>
<circle cx="263.40" cy="88.70" r="1.4" fill="#d0103a"/>
<circle cx="306.72" cy="109.10" r="1.5" fill="#d0103a"/>
<line x1="306.72" y1="107.60" x2="306.72" y2="110.60" stroke="#d0103a" stroke-width="0.8" />
<line x1="305.52" y1="107.60" x2="307.92" y2="107.60" stroke="#d0103a" stroke-width="0.8" />
<line x1="305.52" y1="110.60" x2="307.92" y2="110.60" stroke="#d0103a" stroke-width="0.8" />
<circle cx="350.04" cy="135.20" r="1.5" fill="#d0103a"/>
<line x1="350.04" y1="132.50" x2="350.04" y2="137.90" stroke="#d0103a" stroke-width="0.8" />
<line x1="348.84" y1="132.50" x2="351.24" y2="132.50" stroke="#d0103a" stroke-width="0.8" />
<line x1="348.84" y1="137.90" x2="351.24" y2="137.90" stroke="#d0103a" stroke-width="0.8" />
<circle cx="393.36" cy="150.80" r="1.5" fill="#d0103a"/>
<line x1="393.36" y1="149.00" x2="393.36" y2="152.60" stroke="#d0103a" stroke-width="0.8" />
<line x1="392.16" y1="149.00" x2="394.56" y2="149.00" stroke="#d0103a" stroke-width="0.8" />
<line x1="392.16" y1="152.60" x2="394.56" y2="152.60" stroke="#d0103a" stroke-width="0.8" />
<rect x="262.80" y="84.2" width="3.2" height="3.6" fill="#18518d"/>
<circle cx="306.72" cy="146.80" r="1.5" fill="#18518d"/>
<circle cx="350.04" cy="167.00" r="1.5" fill="#18518d"/>
<circle cx="393.36" cy="169.90" r="1.5" fill="#18518d"/>
<circle cx="305.80" cy="79.50" r="1.4" fill="#d0103a"/>
<circle cx="305.80" cy="90.80" r="1.4" fill="#18518d"/>
<text x="310.50" y="82.20" font-size="7.8" fill="#231f20" stroke="#231f20" stroke-width="0.22" textLength="56.02" lengthAdjust="spacingAndGlyphs" xml:space="preserve">Ctrl (K=0.0056h</text>
<text x="366.52" y="79.20" font-size="5.6" fill="#231f20" stroke="#231f20" stroke-width="0.22" textLength="6.52" lengthAdjust="spacingAndGlyphs" xml:space="preserve">−1</text>
<text x="373.05" y="82.20" font-size="7.8" fill="#231f20" stroke="#231f20" stroke-width="0.22" textLength="2.65" lengthAdjust="spacingAndGlyphs" xml:space="preserve">)</text>
<text x="310.50" y="93.40" font-size="7.8" fill="#231f20" stroke="#231f20" stroke-width="0.22" textLength="12.19" lengthAdjust="spacingAndGlyphs" xml:space="preserve" font-family="Liberation Serif">Δ/Δ</text>
<text x="322.69" y="93.40" font-size="7.8" fill="#231f20" stroke="#231f20" stroke-width="0.22" textLength="38.34" lengthAdjust="spacingAndGlyphs" xml:space="preserve"> (K=0.052h</text>
<text x="361.03" y="90.40" font-size="5.6" fill="#231f20" stroke="#231f20" stroke-width="0.22" textLength="6.38" lengthAdjust="spacingAndGlyphs" xml:space="preserve">−1</text>
<text x="367.41" y="93.40" font-size="7.8" fill="#231f20" stroke="#231f20" stroke-width="0.22" textLength="2.59" lengthAdjust="spacingAndGlyphs" xml:space="preserve">)</text>
<text x="7.40" y="216.80" font-size="11.5" fill="#000" stroke="#000" stroke-width="0.22" font-weight="bold" >C</text>
<line x1="42.90" y1="220.50" x2="42.90" y2="325.50" stroke="#231f20" stroke-width="1.25" />
<line x1="42.40" y1="325.00" x2="91.90" y2="325.00" stroke="#231f20" stroke-width="1.25" />
<line x1="39.00" y1="325.00" x2="42.90" y2="325.00" stroke="#231f20" stroke-width="1.25" />
<text x="35.40" y="328.10" font-size="8.3" fill="#333" stroke="#333" stroke-width="0.2" text-anchor="end" textLength="4.52" lengthAdjust="spacingAndGlyphs">0</text>
<line x1="39.00" y1="305.30" x2="42.90" y2="305.30" stroke="#231f20" stroke-width="1.25" />
<text x="35.40" y="308.40" font-size="8.3" fill="#333" stroke="#333" stroke-width="0.2" text-anchor="end" textLength="13.57" lengthAdjust="spacingAndGlyphs">100</text>
<line x1="39.00" y1="285.60" x2="42.90" y2="285.60" stroke="#231f20" stroke-width="1.25" />
<text x="35.40" y="288.70" font-size="8.3" fill="#333" stroke="#333" stroke-width="0.2" text-anchor="end" textLength="13.57" lengthAdjust="spacingAndGlyphs">200</text>
<line x1="39.00" y1="265.90" x2="42.90" y2="265.90" stroke="#231f20" stroke-width="1.25" />
<text x="35.40" y="269.00" font-size="8.3" fill="#333" stroke="#333" stroke-width="0.2" text-anchor="end" textLength="13.57" lengthAdjust="spacingAndGlyphs">300</text>
<line x1="39.00" y1="246.20" x2="42.90" y2="246.20" stroke="#231f20" stroke-width="1.25" />
<text x="35.40" y="249.30" font-size="8.3" fill="#333" stroke="#333" stroke-width="0.2" text-anchor="end" textLength="13.57" lengthAdjust="spacingAndGlyphs">400</text>
<line x1="39.00" y1="226.50" x2="42.90" y2="226.50" stroke="#231f20" stroke-width="1.25" />
<text x="35.40" y="229.60" font-size="8.3" fill="#333" stroke="#333" stroke-width="0.2" text-anchor="end" textLength="13.57" lengthAdjust="spacingAndGlyphs">500</text>
<line x1="42.90" y1="325.00" x2="42.90" y2="329.30" stroke="#231f20" stroke-width="1.25" />
<line x1="59.00" y1="325.00" x2="59.00" y2="329.30" stroke="#231f20" stroke-width="1.25" />
<line x1="75.30" y1="325.00" x2="75.30" y2="329.30" stroke="#231f20" stroke-width="1.25" />
<text x="58.80" y="338.80" font-size="8.4" fill="#3a3a3a" stroke="#3a3a3a" stroke-width="0.22" text-anchor="middle" >Ctrl</text>
<text x="75.60" y="338.80" font-size="8.4" fill="#3a3a3a" stroke="#3a3a3a" stroke-width="0.22" text-anchor="middle" font-family="Liberation Serif" >Δ/Δ</text>
<g transform="translate(16.30 296.60) rotate(-90)">
<text x="0.00" y="0.00" font-size="9" fill="#3a3a3a" stroke="#3a3a3a" stroke-width="0.22" textLength="46.00" lengthAdjust="spacingAndGlyphs" xml:space="preserve">Platelets × 10</text>
<text x="46.00" y="-3.60" font-size="6" fill="#3a3a3a" stroke="#3a3a3a" stroke-width="0.22" textLength="2.80" lengthAdjust="spacingAndGlyphs" xml:space="preserve">6</text>
</g>
<circle cx="58.60" cy="287.40" r="1.7" fill="#d0103a"/>
<circle cx="58.70" cy="302.10" r="1.7" fill="#d0103a"/>
<circle cx="62.30" cy="301.20" r="1.7" fill="#d0103a"/>
<circle cx="62.10" cy="307.20" r="1.7" fill="#d0103a"/>
<circle cx="52.30" cy="310.80" r="1.7" fill="#d0103a"/>
<circle cx="55.60" cy="308.10" r="1.7" fill="#d0103a"/>
<circle cx="58.70" cy="308.50" r="1.7" fill="#d0103a"/>
<circle cx="58.70" cy="311.70" r="1.7" fill="#d0103a"/>
<circle cx="55.60" cy="313.00" r="1.7" fill="#d0103a"/>
<circle cx="58.90" cy="315.00" r="1.7" fill="#d0103a"/>
<circle cx="62.30" cy="313.00" r="1.7" fill="#d0103a"/>
<circle cx="65.70" cy="313.00" r="1.7" fill="#d0103a"/>
<circle cx="58.90" cy="319.10" r="1.7" fill="#d0103a"/>
<circle cx="58.70" cy="324.80" r="1.7" fill="#d0103a"/>
<line x1="52.50" y1="309.70" x2="67.10" y2="309.70" stroke="#e06b86" stroke-width="0.9" />
<line x1="59.00" y1="307.50" x2="59.00" y2="311.80" stroke="#e06b86" stroke-width="0.7" />
<line x1="57.20" y1="307.50" x2="60.80" y2="307.50" stroke="#e06b86" stroke-width="0.7" />
<line x1="57.20" y1="311.80" x2="60.80" y2="311.80" stroke="#e06b86" stroke-width="0.7" />
<circle cx="75.50" cy="246.20" r="1.7" fill="#18518d"/>
<circle cx="75.50" cy="253.00" r="1.7" fill="#18518d"/>
<circle cx="75.50" cy="258.10" r="1.7" fill="#18518d"/>
<circle cx="75.50" cy="266.80" r="1.7" fill="#18518d"/>
<circle cx="75.50" cy="279.60" r="1.7" fill="#18518d"/>
<circle cx="72.40" cy="284.20" r="1.7" fill="#18518d"/>
<circle cx="78.50" cy="284.20" r="1.7" fill="#18518d"/>
<circle cx="72.40" cy="288.80" r="1.7" fill="#18518d"/>
<circle cx="78.50" cy="288.80" r="1.7" fill="#18518d"/>
<circle cx="72.70" cy="289.50" r="1.7" fill="#18518d"/>
<circle cx="78.60" cy="289.50" r="1.7" fill="#18518d"/>
<circle cx="72.70" cy="301.40" r="1.7" fill="#18518d"/>
<circle cx="72.70" cy="305.20" r="1.7" fill="#18518d"/>
<circle cx="78.60" cy="305.20" r="1.7" fill="#18518d"/>
<circle cx="78.60" cy="299.20" r="1.7" fill="#18518d"/>
<circle cx="75.50" cy="293.60" r="1.7" fill="#18518d"/>
<line x1="67.30" y1="282.40" x2="82.70" y2="282.40" stroke="#18518d" stroke-width="0.9" />
<line x1="75.40" y1="276.80" x2="75.40" y2="288.00" stroke="#18518d" stroke-width="0.7" />
<line x1="73.10" y1="276.80" x2="77.70" y2="276.80" stroke="#18518d" stroke-width="0.7" />
<line x1="73.10" y1="288.00" x2="77.70" y2="288.00" stroke="#18518d" stroke-width="0.7" />
<text x="61.48" y="242.80" font-size="7.8" text-anchor="middle" fill="#111" stroke="#111" stroke-width="0.3">*</text>
<text x="65.06" y="242.80" font-size="7.8" text-anchor="middle" fill="#111" stroke="#111" stroke-width="0.3">*</text>
<text x="68.64" y="242.80" font-size="7.8" text-anchor="middle" fill="#111" stroke="#111" stroke-width="0.3">*</text>
<text x="72.22" y="242.80" font-size="7.8" text-anchor="middle" fill="#111" stroke="#111" stroke-width="0.3">*</text>
<line x1="59.10" y1="242.00" x2="74.50" y2="242.00" stroke="#555" stroke-width="1.3" />
<text x="115.70" y="216.80" font-size="11.5" fill="#000" stroke="#000" stroke-width="0.22" font-weight="bold" >D</text>
<line x1="158.60" y1="221.50" x2="158.60" y2="325.50" stroke="#231f20" stroke-width="1.25" />
<line x1="158.10" y1="325.00" x2="207.50" y2="325.00" stroke="#231f20" stroke-width="1.25" />
<line x1="155.00" y1="325.00" x2="158.60" y2="325.00" stroke="#231f20" stroke-width="1.25" />
<text x="152.20" y="327.60" font-size="8.0" fill="#333" stroke="#333" stroke-width="0.2" text-anchor="end" textLength="10.34" lengthAdjust="spacingAndGlyphs">0.0</text>
<line x1="155.00" y1="300.60" x2="158.60" y2="300.60" stroke="#231f20" stroke-width="1.25" />
<text x="152.20" y="303.20" font-size="8.0" fill="#333" stroke="#333" stroke-width="0.2" text-anchor="end" textLength="10.34" lengthAdjust="spacingAndGlyphs">1.0</text>
<line x1="155.00" y1="276.20" x2="158.60" y2="276.20" stroke="#231f20" stroke-width="1.25" />
<text x="152.20" y="278.80" font-size="8.0" fill="#333" stroke="#333" stroke-width="0.2" text-anchor="end" textLength="10.34" lengthAdjust="spacingAndGlyphs">2.0</text>
<line x1="155.00" y1="251.80" x2="158.60" y2="251.80" stroke="#231f20" stroke-width="1.25" />
<text x="152.20" y="254.40" font-size="8.0" fill="#333" stroke="#333" stroke-width="0.2" text-anchor="end" textLength="10.34" lengthAdjust="spacingAndGlyphs">3.0</text>
<line x1="155.00" y1="227.40" x2="158.60" y2="227.40" stroke="#231f20" stroke-width="1.25" />
<text x="152.20" y="230.00" font-size="8.0" fill="#333" stroke="#333" stroke-width="0.2" text-anchor="end" textLength="10.34" lengthAdjust="spacingAndGlyphs">4.0</text>
<line x1="158.60" y1="325.00" x2="158.60" y2="328.00" stroke="#231f20" stroke-width="1.25" />
<line x1="172.50" y1="325.00" x2="172.50" y2="328.00" stroke="#231f20" stroke-width="1.25" />
<line x1="193.10" y1="325.00" x2="193.10" y2="328.00" stroke="#231f20" stroke-width="1.25" />
<text x="172.50" y="337.50" font-size="8.2" fill="#3a3a3a" stroke="#3a3a3a" stroke-width="0.22" text-anchor="middle" >Ctrl</text>
<text x="193.10" y="337.50" font-size="8.2" fill="#3a3a3a" stroke="#3a3a3a" stroke-width="0.22" text-anchor="middle" font-family="Liberation Serif" >Δ/Δ</text>
<g transform="translate(123.60 286.20) rotate(-90)">
<text x="0.00" y="0.00" font-size="8.6" fill="#3a3a3a" stroke="#3a3a3a" stroke-width="0.22" textLength="26.90" lengthAdjust="spacingAndGlyphs" xml:space="preserve">Relative</text>
</g>
<g transform="translate(134.50 303.90) rotate(-90)">
<text x="0.00" y="0.00" font-size="8.6" fill="#3a3a3a" stroke="#3a3a3a" stroke-width="0.22" textLength="62.20" lengthAdjust="spacingAndGlyphs" xml:space="preserve">caspase3/7 activity</text>
</g>
<circle cx="172.50" cy="287.30" r="1.7" fill="#d0103a"/>
<circle cx="172.50" cy="301.20" r="1.7" fill="#d0103a"/>
<circle cx="167.10" cy="315.10" r="1.7" fill="#d0103a"/>
<circle cx="172.50" cy="314.30" r="1.7" fill="#d0103a"/>
<circle cx="177.70" cy="315.10" r="1.7" fill="#d0103a"/>
<line x1="165.80" y1="306.50" x2="179.40" y2="306.50" stroke="#e06b86" stroke-width="0.9" />
<circle cx="193.10" cy="234.60" r="1.7" fill="#18518d"/>
<circle cx="193.10" cy="249.10" r="1.7" fill="#18518d"/>
<circle cx="193.10" cy="263.70" r="1.7" fill="#18518d"/>
<circle cx="190.20" cy="289.10" r="1.7" fill="#18518d"/>
<circle cx="196.00" cy="287.30" r="1.7" fill="#18518d"/>
<line x1="185.90" y1="264.80" x2="199.80" y2="264.80" stroke="#18518d" stroke-width="0.9" />
<line x1="193.10" y1="254.30" x2="193.10" y2="275.60" stroke="#18518d" stroke-width="0.8" />
<line x1="189.80" y1="254.30" x2="196.40" y2="254.30" stroke="#18518d" stroke-width="0.8" />
<line x1="189.80" y1="275.60" x2="196.40" y2="275.60" stroke="#18518d" stroke-width="0.8" />
<text x="181.20" y="232.20" font-size="7.8" text-anchor="middle" fill="#111" stroke="#111" stroke-width="0.3">*</text>
<text x="184.90" y="232.20" font-size="7.8" text-anchor="middle" fill="#111" stroke="#111" stroke-width="0.3">*</text>
<line x1="170.00" y1="230.50" x2="195.00" y2="230.50" stroke="#333" stroke-width="1.2" />
<text x="234.00" y="216.80" font-size="11.5" fill="#000" stroke="#000" stroke-width="0.22" font-weight="bold" >E</text>
<line x1="263.30" y1="220.20" x2="263.30" y2="325.30" stroke="#231f20" stroke-width="1.25" />
<line x1="262.80" y1="324.80" x2="312.00" y2="324.80" stroke="#231f20" stroke-width="1.25" />
<line x1="259.70" y1="324.80" x2="263.30" y2="324.80" stroke="#231f20" stroke-width="1.25" />
<text x="256.80" y="328.20" font-size="8.8" fill="#333" stroke="#333" stroke-width="0.2" text-anchor="end" textLength="4.40" lengthAdjust="spacingAndGlyphs">0</text>
<line x1="259.70" y1="300.20" x2="263.30" y2="300.20" stroke="#231f20" stroke-width="1.25" />
<text x="256.80" y="303.60" font-size="8.8" fill="#333" stroke="#333" stroke-width="0.2" text-anchor="end" textLength="8.81" lengthAdjust="spacingAndGlyphs">20</text>
<line x1="259.70" y1="275.60" x2="263.30" y2="275.60" stroke="#231f20" stroke-width="1.25" />
<text x="256.80" y="279.00" font-size="8.8" fill="#333" stroke="#333" stroke-width="0.2" text-anchor="end" textLength="8.81" lengthAdjust="spacingAndGlyphs">40</text>
<line x1="259.70" y1="251.00" x2="263.30" y2="251.00" stroke="#231f20" stroke-width="1.25" />
<text x="256.80" y="254.40" font-size="8.8" fill="#333" stroke="#333" stroke-width="0.2" text-anchor="end" textLength="8.81" lengthAdjust="spacingAndGlyphs">60</text>
<line x1="259.70" y1="226.40" x2="263.30" y2="226.40" stroke="#231f20" stroke-width="1.25" />
<text x="256.80" y="229.80" font-size="8.8" fill="#333" stroke="#333" stroke-width="0.2" text-anchor="end" textLength="8.81" lengthAdjust="spacingAndGlyphs">80</text>
<line x1="263.30" y1="324.80" x2="263.30" y2="327.80" stroke="#231f20" stroke-width="1.25" />
<line x1="277.30" y1="324.80" x2="277.30" y2="327.80" stroke="#231f20" stroke-width="1.25" />
<line x1="297.40" y1="324.80" x2="297.40" y2="327.80" stroke="#231f20" stroke-width="1.25" />
<text x="277.30" y="336.50" font-size="8.2" fill="#3a3a3a" stroke="#3a3a3a" stroke-width="0.22" text-anchor="middle" >Ctrl</text>
<text x="297.40" y="336.50" font-size="8.2" fill="#3a3a3a" stroke="#3a3a3a" stroke-width="0.22" text-anchor="middle" font-family="Liberation Serif" >Δ/Δ</text>
<g transform="translate(242.70 299.80) rotate(-90)">
<text x="0.00" y="0.00" font-size="8.4" fill="#3a3a3a" stroke="#3a3a3a" stroke-width="0.22" textLength="9.63" lengthAdjust="spacingAndGlyphs" xml:space="preserve">TO</text>
<text x="9.63" y="-3.20" font-size="5.8" fill="#3a3a3a" stroke="#3a3a3a" stroke-width="0.22" textLength="2.80" lengthAdjust="spacingAndGlyphs" xml:space="preserve">+</text>
<text x="12.43" y="0.00" font-size="8.4" fill="#3a3a3a" stroke="#3a3a3a" stroke-width="0.22" textLength="40.47" lengthAdjust="spacingAndGlyphs" xml:space="preserve"> platelets (%)</text>
</g>
<circle cx="269.40" cy="320.00" r="1.7" fill="#d0103a"/>
<circle cx="273.60" cy="320.00" r="1.7" fill="#d0103a"/>
<circle cx="277.70" cy="320.00" r="1.7" fill="#d0103a"/>
<circle cx="281.70" cy="320.00" r="1.7" fill="#d0103a"/>
<line x1="285.80" y1="317.30" x2="285.80" y2="322.00" stroke="#e06b86" stroke-width="0.8" />
<circle cx="285.80" cy="317.30" r="1.7" fill="#d0103a"/>
<circle cx="285.80" cy="322.00" r="1.7" fill="#d0103a"/>
<circle cx="297.40" cy="246.80" r="1.7" fill="#18518d"/>
<circle cx="297.40" cy="255.90" r="1.7" fill="#18518d"/>
<circle cx="297.40" cy="264.10" r="1.7" fill="#18518d"/>
<circle cx="297.40" cy="268.10" r="1.7" fill="#18518d"/>
<circle cx="297.40" cy="280.50" r="1.7" fill="#18518d"/>
<circle cx="297.40" cy="284.50" r="1.7" fill="#18518d"/>
<line x1="288.30" y1="266.80" x2="306.80" y2="266.80" stroke="#18518d" stroke-width="0.9" />
<line x1="297.40" y1="260.80" x2="297.40" y2="272.60" stroke="#18518d" stroke-width="0.8" />
<line x1="293.10" y1="260.80" x2="301.70" y2="260.80" stroke="#18518d" stroke-width="0.8" />
<line x1="293.10" y1="272.60" x2="301.70" y2="272.60" stroke="#18518d" stroke-width="0.8" />
<text x="283.30" y="238.30" font-size="7.8" text-anchor="middle" fill="#111" stroke="#111" stroke-width="0.3">*</text>
<text x="286.77" y="238.30" font-size="7.8" text-anchor="middle" fill="#111" stroke="#111" stroke-width="0.3">*</text>
<text x="290.24" y="238.30" font-size="7.8" text-anchor="middle" fill="#111" stroke="#111" stroke-width="0.3">*</text>
<text x="293.71" y="238.30" font-size="7.8" text-anchor="middle" fill="#111" stroke="#111" stroke-width="0.3">*</text>
<line x1="276.60" y1="236.90" x2="299.80" y2="236.90" stroke="#555" stroke-width="1.3" />
<text x="339.50" y="216.80" font-size="11.5" fill="#000" stroke="#000" stroke-width="0.22" font-weight="bold" >F</text>
<line x1="369.30" y1="220.20" x2="369.30" y2="325.50" stroke="#231f20" stroke-width="1.25" />
<line x1="368.80" y1="325.00" x2="512.60" y2="325.00" stroke="#231f20" stroke-width="1.25" />
<line x1="365.70" y1="325.00" x2="369.30" y2="325.00" stroke="#231f20" stroke-width="1.25" />
<text x="361.80" y="328.40" font-size="8.8" fill="#333" stroke="#333" stroke-width="0.2" text-anchor="end" textLength="4.40" lengthAdjust="spacingAndGlyphs">0</text>
<line x1="365.70" y1="300.30" x2="369.30" y2="300.30" stroke="#231f20" stroke-width="1.25" />
<text x="361.80" y="303.70" font-size="8.8" fill="#333" stroke="#333" stroke-width="0.2" text-anchor="end" textLength="8.81" lengthAdjust="spacingAndGlyphs">20</text>
<line x1="365.70" y1="275.60" x2="369.30" y2="275.60" stroke="#231f20" stroke-width="1.25" />
<text x="361.80" y="279.00" font-size="8.8" fill="#333" stroke="#333" stroke-width="0.2" text-anchor="end" textLength="8.81" lengthAdjust="spacingAndGlyphs">40</text>
<line x1="365.70" y1="250.90" x2="369.30" y2="250.90" stroke="#231f20" stroke-width="1.25" />
<text x="361.80" y="254.30" font-size="8.8" fill="#333" stroke="#333" stroke-width="0.2" text-anchor="end" textLength="8.81" lengthAdjust="spacingAndGlyphs">60</text>
<line x1="365.70" y1="226.20" x2="369.30" y2="226.20" stroke="#231f20" stroke-width="1.25" />
<text x="361.80" y="229.60" font-size="8.8" fill="#333" stroke="#333" stroke-width="0.2" text-anchor="end" textLength="8.81" lengthAdjust="spacingAndGlyphs">80</text>
<line x1="388.00" y1="325.00" x2="388.00" y2="328.00" stroke="#231f20" stroke-width="1.25" />
<text x="388.00" y="337.30" font-size="8.4" fill="#333" stroke="#333" stroke-width="0.2" text-anchor="middle" textLength="4.44" lengthAdjust="spacingAndGlyphs">0</text>
<line x1="424.80" y1="325.00" x2="424.80" y2="328.00" stroke="#231f20" stroke-width="1.25" />
<text x="424.80" y="337.30" font-size="8.4" fill="#333" stroke="#333" stroke-width="0.2" text-anchor="middle" textLength="4.44" lengthAdjust="spacingAndGlyphs">2</text>
<line x1="461.60" y1="325.00" x2="461.60" y2="328.00" stroke="#231f20" stroke-width="1.25" />
<text x="461.60" y="337.30" font-size="8.4" fill="#333" stroke="#333" stroke-width="0.2" text-anchor="middle" textLength="4.44" lengthAdjust="spacingAndGlyphs">4</text>
<line x1="498.50" y1="325.00" x2="498.50" y2="328.00" stroke="#231f20" stroke-width="1.25" />
<text x="498.50" y="337.30" font-size="8.4" fill="#333" stroke="#333" stroke-width="0.2" text-anchor="middle" textLength="4.44" lengthAdjust="spacingAndGlyphs">7</text>
<text x="403.80" y="349.80" font-size="9.4" fill="#333" stroke="#333" stroke-width="0.22" textLength="74.4" lengthAdjust="spacingAndGlyphs" >Day post-APS injection</text>
<g transform="translate(348.00 299.80) rotate(-90)">
<text x="0.00" y="0.00" font-size="8.4" fill="#3a3a3a" stroke="#3a3a3a" stroke-width="0.22" textLength="9.63" lengthAdjust="spacingAndGlyphs" xml:space="preserve">TO</text>
<text x="9.63" y="-3.20" font-size="5.8" fill="#3a3a3a" stroke="#3a3a3a" stroke-width="0.22" textLength="2.80" lengthAdjust="spacingAndGlyphs" xml:space="preserve">+</text>
<text x="12.43" y="0.00" font-size="8.4" fill="#3a3a3a" stroke="#3a3a3a" stroke-width="0.22" textLength="40.47" lengthAdjust="spacingAndGlyphs" xml:space="preserve"> platelets (%)</text>
</g>
<line x1="424.70" y1="252.10" x2="424.70" y2="270.30" stroke="#d6456c" stroke-width="0.95" />
<line x1="423.30" y1="252.10" x2="426.10" y2="252.10" stroke="#d6456c" stroke-width="0.95" />
<line x1="423.30" y1="270.30" x2="426.10" y2="270.30" stroke="#d6456c" stroke-width="0.95" />
<line x1="461.40" y1="304.50" x2="461.40" y2="311.10" stroke="#d6456c" stroke-width="0.95" />
<line x1="460.00" y1="304.50" x2="462.80" y2="304.50" stroke="#d6456c" stroke-width="0.95" />
<line x1="460.00" y1="311.10" x2="462.80" y2="311.10" stroke="#d6456c" stroke-width="0.95" />
<line x1="424.70" y1="240.00" x2="424.70" y2="250.00" stroke="#3d70a6" stroke-width="0.95" />
<line x1="423.30" y1="240.00" x2="426.10" y2="240.00" stroke="#3d70a6" stroke-width="0.95" />
<line x1="423.30" y1="250.00" x2="426.10" y2="250.00" stroke="#3d70a6" stroke-width="0.95" />
<line x1="461.80" y1="240.60" x2="461.80" y2="247.90" stroke="#18518d" stroke-width="0.95" />
<line x1="460.40" y1="240.60" x2="463.20" y2="240.60" stroke="#18518d" stroke-width="0.95" />
<line x1="460.40" y1="247.90" x2="463.20" y2="247.90" stroke="#18518d" stroke-width="0.95" />
<line x1="498.30" y1="260.60" x2="498.30" y2="268.70" stroke="#18518d" stroke-width="0.95" />
<line x1="496.90" y1="260.60" x2="499.70" y2="260.60" stroke="#18518d" stroke-width="0.95" />
<line x1="496.90" y1="268.70" x2="499.70" y2="268.70" stroke="#18518d" stroke-width="0.95" />
<line x1="388.00" y1="273.50" x2="388.00" y2="276.50" stroke="#18518d" stroke-width="0.8" />
<line x1="386.70" y1="273.50" x2="389.30" y2="273.50" stroke="#18518d" stroke-width="0.8" />
<line x1="386.70" y1="276.50" x2="389.30" y2="276.50" stroke="#18518d" stroke-width="0.8" />
<polyline points="388.00,318.50 424.70,261.30 461.40,307.30 498.50,321.60" fill="none" stroke="#d0103a" stroke-width="1.6" stroke-linejoin="round"/>
<polyline points="388.00,275.00 424.70,244.70 461.80,244.50 498.30,264.80" fill="none" stroke="#18518d" stroke-width="1.6" stroke-linejoin="round"/>
<circle cx="388.00" cy="318.50" r="1.5" fill="#d0103a"/>
<circle cx="424.70" cy="261.30" r="1.5" fill="#d0103a"/>
<circle cx="461.40" cy="307.30" r="1.5" fill="#d0103a"/>
<circle cx="498.50" cy="321.60" r="1.5" fill="#d0103a"/>
<circle cx="388.00" cy="275.00" r="1.5" fill="#18518d"/>
<circle cx="424.70" cy="244.70" r="1.5" fill="#18518d"/>
<circle cx="461.80" cy="244.50" r="1.5" fill="#18518d"/>
<circle cx="498.30" cy="264.80" r="1.5" fill="#18518d"/>
<text x="379.50" y="269.00" font-size="7.8" text-anchor="middle" fill="#111" stroke="#111" stroke-width="0.3">*</text>
<text x="383.13" y="269.00" font-size="7.8" text-anchor="middle" fill="#111" stroke="#111" stroke-width="0.3">*</text>
<text x="386.76" y="269.00" font-size="7.8" text-anchor="middle" fill="#111" stroke="#111" stroke-width="0.3">*</text>
<text x="390.39" y="269.00" font-size="7.8" text-anchor="middle" fill="#111" stroke="#111" stroke-width="0.3">*</text>
<text x="456.45" y="241.50" font-size="7.8" text-anchor="middle" fill="#111" stroke="#111" stroke-width="0.3">*</text>
<text x="459.95" y="241.50" font-size="7.8" text-anchor="middle" fill="#111" stroke="#111" stroke-width="0.3">*</text>
<text x="463.45" y="241.50" font-size="7.8" text-anchor="middle" fill="#111" stroke="#111" stroke-width="0.3">*</text>
<text x="466.95" y="241.50" font-size="7.8" text-anchor="middle" fill="#111" stroke="#111" stroke-width="0.3">*</text>
<text x="493.25" y="260.00" font-size="7.8" text-anchor="middle" fill="#111" stroke="#111" stroke-width="0.3">*</text>
<text x="496.75" y="260.00" font-size="7.8" text-anchor="middle" fill="#111" stroke="#111" stroke-width="0.3">*</text>
<text x="500.25" y="260.00" font-size="7.8" text-anchor="middle" fill="#111" stroke="#111" stroke-width="0.3">*</text>
<text x="503.75" y="260.00" font-size="7.8" text-anchor="middle" fill="#111" stroke="#111" stroke-width="0.3">*</text>
<line x1="469.10" y1="286.50" x2="480.70" y2="286.50" stroke="#d0103a" stroke-width="1.5" />
<circle cx="474.90" cy="286.50" r="1.6" fill="#d0103a"/>
<line x1="469.10" y1="297.60" x2="480.70" y2="297.60" stroke="#18518d" stroke-width="1.5" />
<circle cx="474.90" cy="297.60" r="1.6" fill="#18518d"/>
<text x="483.60" y="289.60" font-size="8.2" fill="#231f20" stroke="#231f20" stroke-width="0.22" >Ctrl</text>
<text x="483.60" y="300.70" font-size="8.2" fill="#231f20" stroke="#231f20" stroke-width="0.22" font-family="Liberation Serif" >Δ/Δ</text>
</svg></div></body></html>
